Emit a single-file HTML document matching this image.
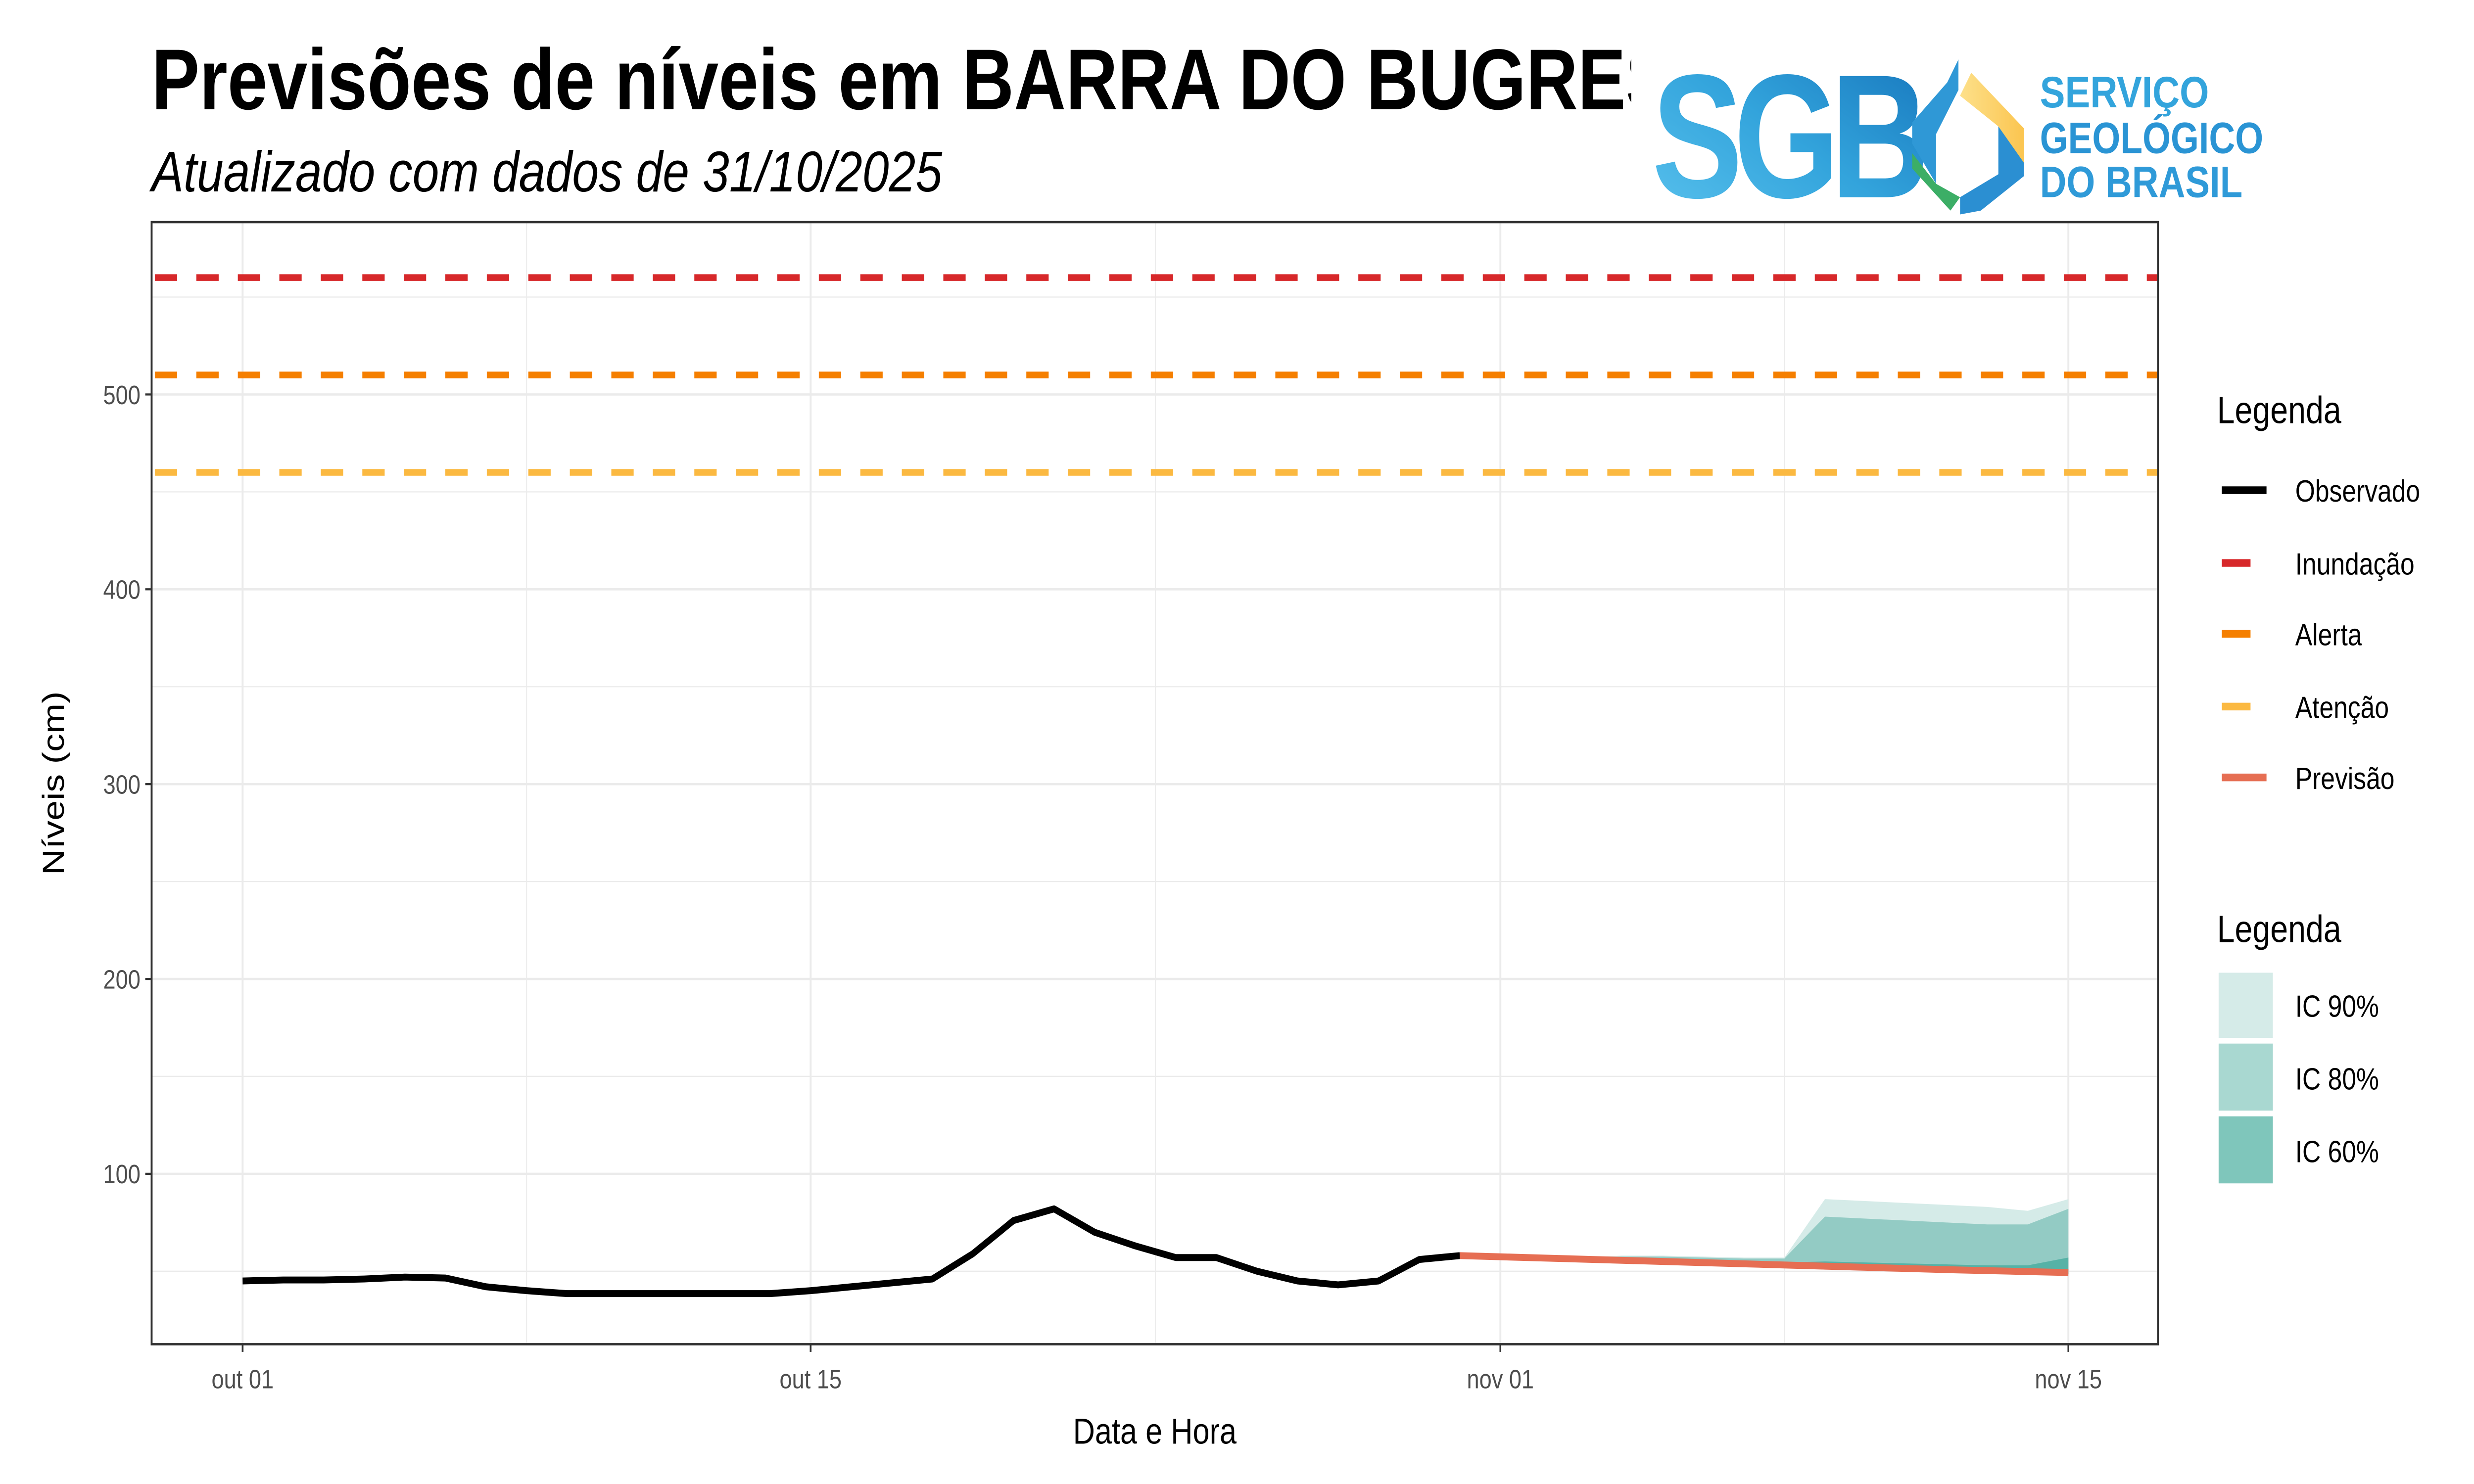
<!DOCTYPE html>
<html><head><meta charset="utf-8">
<style>
html,body{margin:0;padding:0;background:#fff;overflow:hidden;width:100%;height:100%;}
svg{display:block;width:100vw;height:100vh;}
text{font-family:"Liberation Sans",sans-serif;}
</style></head>
<body>
<svg id="chart" viewBox="0 0 1550 775" preserveAspectRatio="none" xmlns="http://www.w3.org/2000/svg">
<defs>
<linearGradient id="blueg" x1="0" y1="1" x2="1" y2="0"><stop offset="0" stop-color="#5bc3ee"/><stop offset="0.5" stop-color="#33a4dc"/><stop offset="1" stop-color="#1574bb"/></linearGradient>
<linearGradient id="yel" x1="0" x2="1"><stop offset="0" stop-color="#fde08a"/><stop offset="1" stop-color="#fbc550"/></linearGradient>
</defs>
<rect width="1550" height="775" fill="#fff"/>
<text x="95" y="57" font-size="45" font-weight="bold" fill="#000">Previsões de níveis em BARRA DO BUGRES</text>
<text x="95" y="100" font-size="30" font-style="italic" fill="#000">Atualizado com dados de 31/10/2025</text>
<g id="logo">
<rect x="1022" y="15" width="420" height="100" fill="#fff"/>
<text x="1035" y="103" font-size="92" font-weight="bold" fill="url(#blueg)" textLength="168" lengthAdjust="spacingAndGlyphs" letter-spacing="-6">SGB</text>
<polygon points="1198,64 1220,43 1227,31 1227,47 1213,70 1213,96 1198,75" fill="#2f98d6"/>
<polygon points="1198,80 1213,96 1228,103 1222,110 1198,88" fill="#3cae66"/>
<polygon points="1228,50 1235,38 1268,67 1268,90 1252,66" fill="url(#yel)"/>
<polygon points="1252,66 1268,85 1268,92 1241,110 1228,112 1228,103 1252,91" fill="#2b8fd2"/>
<text x="1278" y="56" font-size="23" font-weight="bold" fill="#33a4dc" textLength="106" lengthAdjust="spacingAndGlyphs">SERVIÇO</text>
<text x="1278" y="80" font-size="23" font-weight="bold" fill="#2a94d4" textLength="140" lengthAdjust="spacingAndGlyphs">GEOLÓGICO</text>
<text x="1278" y="103" font-size="23" font-weight="bold" fill="#2f9ad8" textLength="127" lengthAdjust="spacingAndGlyphs">DO BRASIL</text>
</g>
<g id="plot"></g>
<g id="legend">
<text x="1389" y="221" font-size="20" fill="#000">Legenda</text>
<line x1="1392" y1="256" x2="1420" y2="256" stroke="#000" stroke-width="4"/><text x="1438" y="262" font-size="16">Observado</text>
<line x1="1392" y1="294" x2="1410" y2="294" stroke="#d7282a" stroke-width="4"/><text x="1438" y="300" font-size="16">Inundação</text>
<line x1="1392" y1="331" x2="1410" y2="331" stroke="#f57f00" stroke-width="4"/><text x="1438" y="337" font-size="16">Alerta</text>
<line x1="1392" y1="369" x2="1410" y2="369" stroke="#fbb941" stroke-width="4"/><text x="1438" y="375" font-size="16">Atenção</text>
<line x1="1392" y1="406" x2="1420" y2="406" stroke="#e66e53" stroke-width="4"/><text x="1438" y="412" font-size="16">Previsão</text>
<text x="1389" y="492" font-size="20" fill="#000">Legenda</text>
<rect x="1390" y="508" width="34" height="34" fill="#d5ebe8"/><text x="1438" y="531" font-size="16">IC 90%</text>
<rect x="1390" y="545" width="34" height="35" fill="#a9d8d1"/><text x="1438" y="569" font-size="16">IC 80%</text>
<rect x="1390" y="583" width="34" height="35" fill="#7fc6bb"/><text x="1438" y="607" font-size="16">IC 60%</text>
</g>
</svg>
<script>
const yTicks = [100, 200, 300, 400, 500];
const xTickDays = [0, 14, 31, 45];
const xTickLabels = ["out 01", "out 15", "nov 01", "nov 15"];
const thresholds = [560, 510, 460];
const thresholdNames = ["inundacao", "alerta", "atencao"];
const thresholdColors = ["#d7282a", "#f57f00", "#fbb941"];
const obsDays = [0,1,2,3,4,5,6,7,8,9,10,11,12,13,14,15,16,17,18,19,20,21,22,23,24,25,26,27,28,29,30];
const obsValues = [45,45.5,45.5,46,47,46.5,42,40,38.5,38.5,38.5,38.5,38.5,38.5,40,42,44,46,59,76,82,70,63,57,57,50,45,43,45,56,58];
const fcDays = [30,31,32,33,34,35,36,37,38,39,40,41,42,43,44,45];
const fcValues = [58,57.4,56.8,56.2,55.6,55,54.4,53.8,53.2,52.6,52,51.4,50.8,50.3,49.8,49.3];
const up90 = [58,57.4,57,57,58,58,57.5,57,57,87,86,85,84,83,81,87];
const up80 = [58,57.4,57,57,57.5,57.5,57,56.5,56.5,78,77,76,75,74,74,82];
const up60 = [58,57.4,57,56.5,56.5,56,55.5,55,54.5,55,54.5,54,53.5,53,53,57];
const lowBand = [58,57,56.3,55.6,55,54.4,53.8,53.2,52.6,52,51.4,50.8,50.2,49.7,49.2,48.7];

const P = {l:95, r:1352, t:116, b:702};
const X = d => 152 + d * (940 - 152) / 31;
const Y = v => 613 - (v - 100) * (613 - 206) / 400;
const NS = "http://www.w3.org/2000/svg";
const g = document.getElementById('plot');
function mk(tag, attrs, parent) {
  const e = document.createElementNS(NS, tag);
  for (const k in attrs) e.setAttribute(k, attrs[k]);
  (parent || g).appendChild(e);
  return e;
}
const bg = mk('rect', {x:P.l, y:P.t, width:P.r-P.l, height:P.b-P.t, fill:'#fff'});


for (let v = 50; v <= 550; v += 100) {
  const l = mk('line', {x1:P.l, x2:P.r, y1:Y(v), y2:Y(v), stroke:'#ebebeb', 'stroke-width':0.6});
  
  
}
for (let i = 0; i < xTickDays.length - 1; i++) {
  const d = (xTickDays[i] + xTickDays[i+1]) / 2;
  const l = mk('line', {x1:X(d), x2:X(d), y1:P.t, y2:P.b, stroke:'#ebebeb', 'stroke-width':0.6});
  
  
}
yTicks.forEach(v => {
  const l = mk('line', {x1:P.l, x2:P.r, y1:Y(v), y2:Y(v), stroke:'#ebebeb', 'stroke-width':1.2});
  
  
  const tk = mk('line', {x1:P.l-4, x2:P.l, y1:Y(v), y2:Y(v), stroke:'#333', 'stroke-width':1.1});
  
  
  const t = mk('text', {x:P.l-7, y:Y(v)+5, 'text-anchor':'end', 'font-size':14, fill:'#4d4d4d'});
  t.textContent = v;
  
  
});
xTickDays.forEach((d, i) => {
  const l = mk('line', {x1:X(d), x2:X(d), y1:P.t, y2:P.b, stroke:'#ebebeb', 'stroke-width':1.2});
  
  
  const tk = mk('line', {x1:X(d), x2:X(d), y1:P.b, y2:P.b+4, stroke:'#333', 'stroke-width':1.1});
  
  
  const t = mk('text', {x:X(d), y:P.b+23, 'text-anchor':'middle', 'font-size':14, fill:'#4d4d4d'});
  t.textContent = xTickLabels[i];
  
  
});
thresholds.forEach((v, i) => {
  const l = mk('line', {x1:P.l, x2:P.r, y1:Y(v), y2:Y(v), stroke:thresholdColors[i], 'stroke-width':3.5, 'stroke-dasharray':'14 12', 'stroke-dashoffset':'-2'});
  
  
});
function band(up, low, fill, name) {
  let d = '';
  fcDays.forEach((dd, i) => { d += (i ? 'L' : 'M') + X(dd) + ',' + Y(up[i]); });
  for (let i = fcDays.length - 1; i >= 0; i--) d += 'L' + X(fcDays[i]) + ',' + Y(low[i]);
  const p = mk('path', {d: d + 'Z', fill: fill});
  
  
}
band(up90, lowBand, '#d5ebe8', 'band-ic90');
band(up80, lowBand, '#93cbc4', 'band-ic80');
band(up60, lowBand, '#56b2a6', 'band-ic60');
function line(days, vals, color, name) {
  const pts = days.map((d, i) => X(d) + ',' + Y(vals[i])).join(' ');
  const p = mk('polyline', {points: pts, fill:'none', stroke: color, 'stroke-width':3.6, 'stroke-linejoin':'round'});
  
  
}
line(obsDays, obsValues, '#000', 'observed-line');
line(fcDays, fcValues, '#e66e53', 'forecast-line');
const fr = mk('rect', {x:P.l, y:P.t, width:P.r-P.l, height:P.b-P.t, fill:'none', stroke:'#333', 'stroke-width':1.2});


const xt = mk('text', {x:(P.l+P.r)/2, y:754, 'text-anchor':'middle', 'font-size':19, fill:'#000'});
xt.textContent = 'Data e Hora';


const yt = mk('text', {x:0, y:0, transform:'translate(40,' + ((P.t+P.b)/2) + ') rotate(-90)', 'text-anchor':'middle', 'font-size':19, fill:'#000'});
yt.textContent = 'Níveis (cm)';


</script>
</body></html>
